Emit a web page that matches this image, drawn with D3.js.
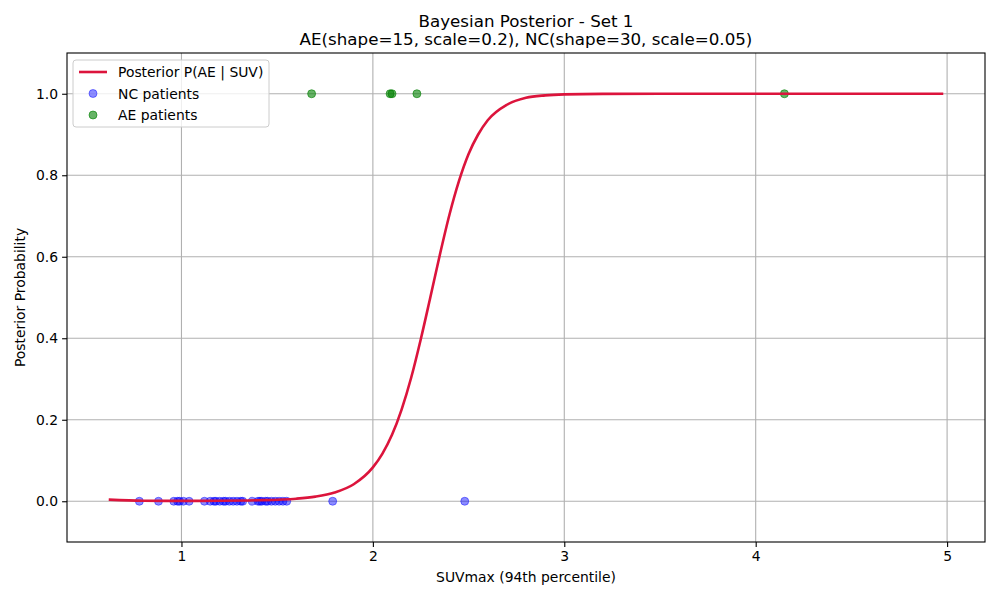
<!DOCTYPE html>
<html>
<head>
<meta charset="utf-8">
<script src="https://cdn.jsdelivr.net/npm/d3@7"></script>
<style>
  body { margin: 0; background: #fff; }
  text { font-family: "DejaVu Sans", sans-serif; fill: #000; }
</style>
</head>
<body>
<svg id="chart" width="1000" height="600"></svg>
<script>
// curve
const curveX = [0.62, 0.8, 1.0, 1.2, 1.4, 1.6, 1.7, 1.8, 1.9, 2.0, 2.05, 2.1, 2.15, 2.2, 2.25, 2.3,
  2.35, 2.4, 2.45, 2.5, 2.55, 2.6, 2.7, 2.8, 2.9, 3.0, 3.2, 3.5, 4.0, 4.98];
const curveP = [0.0039, 0.0013, 0.0009, 0.0012, 0.0024, 0.0063, 0.0114, 0.0214, 0.0417, 0.083, 0.117,
  0.163, 0.225, 0.303, 0.397, 0.5, 0.605, 0.703, 0.786, 0.852, 0.900, 0.935, 0.973, 0.990, 0.996,
  0.9985, 0.9998, 1.0, 1.0, 1.0];

const ncX = [0.78, 0.88, 0.96, 0.98, 0.99, 1.01, 1.04, 1.12, 1.15, 1.17, 1.18, 1.2, 1.22, 1.23,
  1.25, 1.27, 1.29, 1.31, 1.32, 1.37, 1.4, 1.41, 1.42, 1.44, 1.45, 1.47, 1.49, 1.51, 1.53, 1.55,
  1.79, 2.48];
const aeX = [1.68, 2.09, 2.1, 2.23, 4.15];

const xTicks = [1, 2, 3, 4, 5];
const yTicks = [0.0, 0.2, 0.4, 0.6, 0.8, 1.0];

const margin = { left: 67, right: 15, top: 53, bottom: 58 };
const W = 1000, H = 600;
const FS = '13.9px', TFS = '16.7px';

const x = d3.scaleLinear().domain([0.402, 5.198]).range([margin.left, W - margin.right]);
const y = d3.scaleLinear().domain([-0.1, 1.1]).range([H - margin.bottom, margin.top]);

const svg = d3.select('#chart');

// grid
svg.append('g').selectAll('line').data(xTicks).enter().append('line')
  .attr('x1', d => x(d)).attr('x2', d => x(d))
  .attr('y1', margin.top).attr('y2', H - margin.bottom)
  .attr('stroke', '#b0b0b0').attr('stroke-width', 1.1);
svg.append('g').selectAll('line').data(yTicks).enter().append('line')
  .attr('x1', margin.left).attr('x2', W - margin.right)
  .attr('y1', d => y(d)).attr('y2', d => y(d))
  .attr('stroke', '#b0b0b0').attr('stroke-width', 1.1);

// scatter
svg.append('g').selectAll('circle').data(ncX).enter().append('circle')
  .attr('cx', d => x(d)).attr('cy', y(0)).attr('r', 4)
  .attr('fill', 'blue').attr('fill-opacity', 0.45)
  .attr('stroke', 'blue').attr('stroke-opacity', 0.45).attr('stroke-width', 1);
svg.append('g').selectAll('circle').data(aeX).enter().append('circle')
  .attr('cx', d => x(d)).attr('cy', y(1)).attr('r', 4)
  .attr('fill', 'green').attr('fill-opacity', 0.6)
  .attr('stroke', 'green').attr('stroke-opacity', 0.6).attr('stroke-width', 1);

// posterior curve
const line = d3.line()
  .x((d, i) => x(curveX[i]))
  .y(d => y(d))
  .curve(d3.curveMonotoneX);
svg.append('path').datum(curveP)
  .attr('d', line)
  .attr('fill', 'none').attr('stroke', 'crimson').attr('stroke-width', 2.6);

// axes
const xAxis = svg.append('g')
  .attr('transform', `translate(0,${H - margin.bottom})`)
  .call(d3.axisBottom(x).tickValues(xTicks).tickFormat(d3.format('d')).tickSize(4.9).tickPadding(4));
const yAxis = svg.append('g')
  .attr('transform', `translate(${margin.left},0)`)
  .call(d3.axisLeft(y).tickValues(yTicks).tickFormat(d3.format('.1f')).tickSize(4.9).tickPadding(4));
[xAxis, yAxis].forEach(a => {
  a.select('.domain').remove();
  a.selectAll('text').style('font-size', FS).style('font-family', '"DejaVu Sans", sans-serif');
  a.selectAll('line').attr('stroke', '#000').attr('stroke-width', 1.1);
});

svg.append('rect')
  .attr('x', margin.left).attr('y', margin.top)
  .attr('width', W - margin.left - margin.right).attr('height', H - margin.top - margin.bottom)
  .attr('fill', 'none').attr('stroke', '#000').attr('stroke-width', 1.1);

// titles
svg.append('text').attr('x', (margin.left + W - margin.right) / 2).attr('y', 27)
  .attr('text-anchor', 'middle').style('font-size', TFS).text('Bayesian Posterior - Set 1');
svg.append('text').attr('x', (margin.left + W - margin.right) / 2).attr('y', 45)
  .attr('text-anchor', 'middle').style('font-size', TFS)
  .text('AE(shape=15, scale=0.2), NC(shape=30, scale=0.05)');
svg.append('text').attr('x', (margin.left + W - margin.right) / 2).attr('y', 582)
  .attr('text-anchor', 'middle').style('font-size', FS).text('SUVmax (94th percentile)');
svg.append('text').attr('transform', `translate(25,${(margin.top + H - margin.bottom) / 2}) rotate(-90)`)
  .attr('text-anchor', 'middle').style('font-size', FS).text('Posterior Probability');

// legend
const lg = svg.append('g').attr('transform', 'translate(73,60)');
lg.append('rect').attr('width', 196).attr('height', 67).attr('rx', 3)
  .attr('fill', '#fff').attr('fill-opacity', 0.8).attr('stroke', '#ccc');
const items = [
  { label: 'Posterior P(AE | SUV)', type: 'line', color: 'crimson' },
  { label: 'NC patients', type: 'dot', color: 'blue', op: 0.45 },
  { label: 'AE patients', type: 'dot', color: 'green', op: 0.6 }
];
items.forEach((it, i) => {
  const cy = 12 + i * 21.5;
  if (it.type === 'line') {
    lg.append('line').attr('x1', 6).attr('x2', 34).attr('y1', cy).attr('y2', cy)
      .attr('stroke', it.color).attr('stroke-width', 2.6);
  } else {
    lg.append('circle').attr('cx', 20).attr('cy', cy).attr('r', 4)
      .attr('fill', it.color).attr('fill-opacity', it.op)
      .attr('stroke', it.color).attr('stroke-opacity', it.op).attr('stroke-width', 1);
  }
  lg.append('text').attr('x', 45).attr('y', cy + 5).style('font-size', FS).text(it.label);
});
</script>
</body>
</html>
